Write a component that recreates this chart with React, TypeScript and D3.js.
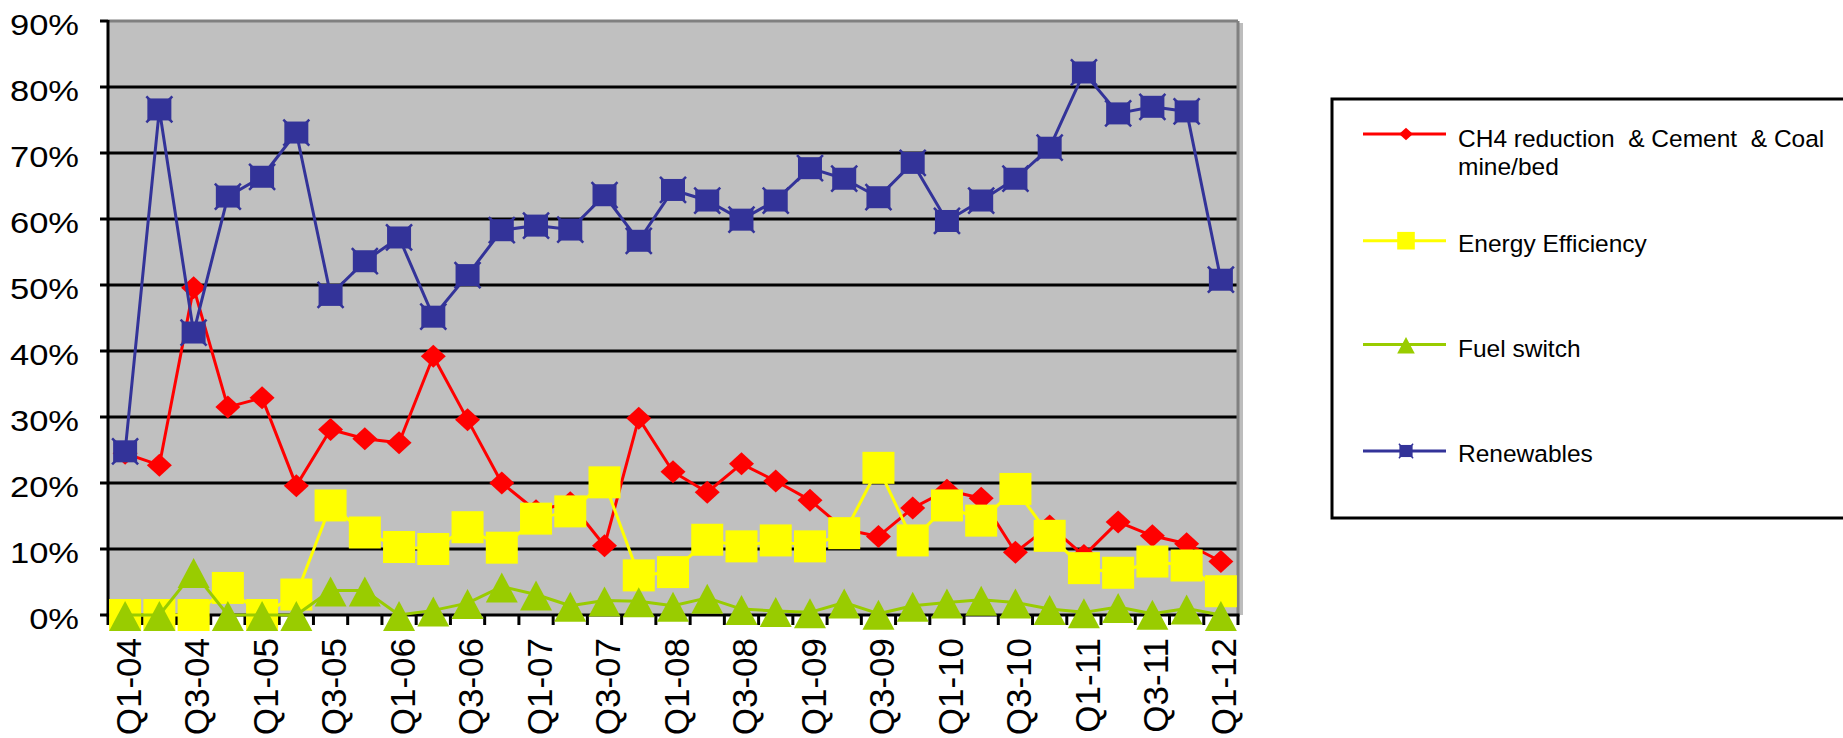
import React from "react";
import * as d3 from "d3";

const categories = [
  "Q1-04","Q2-04","Q3-04","Q4-04","Q1-05","Q2-05","Q3-05","Q4-05",
  "Q1-06","Q2-06","Q3-06","Q4-06","Q1-07","Q2-07","Q3-07","Q4-07",
  "Q1-08","Q2-08","Q3-08","Q4-08","Q1-09","Q2-09","Q3-09","Q4-09",
  "Q1-10","Q2-10","Q3-10","Q4-10","Q1-11","Q2-11","Q3-11","Q4-11","Q1-12",
];

const ch4Values = [24.5,22.7,49.6,31.5,32.9,19.6,28.1,26.7,26.1,39.2,29.6,20.0,15.8,17.0,10.5,29.8,21.7,18.6,22.9,20.3,17.4,13.0,11.9,16.2,18.9,17.7,9.5,13.5,9.0,14.1,12.0,10.8,8.1];
const energyEffValues = [0,0,0,4.1,0,3.1,16.6,12.5,10.3,10.0,13.3,10.2,14.6,15.7,20.1,6.0,6.5,11.4,10.4,11.3,10.4,12.4,22.3,11.3,16.6,14.3,19.1,12.0,7.1,6.4,8.1,7.5,3.6];
const fuelSwitchValues = [0,0,6.5,0,0,0,3.7,3.7,0,0.7,1.8,4.3,3.1,1.4,2.2,2.1,1.4,2.6,0.9,0.6,0.4,1.9,0.2,1.4,1.9,2.3,1.9,0.9,0.4,1.2,0.2,1.0,0];
const renewablesValues = [24.8,76.6,42.8,63.4,66.4,73.1,48.5,53.6,57.2,45.2,51.5,58.3,59.0,58.4,63.6,56.7,64.4,62.8,59.9,62.8,67.7,66.1,63.3,68.5,59.7,62.8,66.1,70.8,82.2,76.0,77.0,76.3,50.8];

const yTicks = [0,10,20,30,40,50,60,70,80,90];

const seriesNames = ["CH4 reduction  & Cement  & Coal", "Energy Efficiency", "Fuel switch", "Renewables"];

const FONT = "'Liberation Sans', Arial, Helvetica, sans-serif";

type Shape = "diamond" | "square" | "triangle" | "xsquare";

function Marker({ shape, x, y, color, s = 1 }: { shape: Shape; x: number; y: number; color: string; s?: number }) {
  if (shape === "diamond") {
    const w = 12.5 * s, h = 11.5 * s;
    return <polygon points={`${x},${y - h} ${x + w},${y} ${x},${y + h} ${x - w},${y}`} fill={color} />;
  }
  if (shape === "square") {
    const h = 16 * s;
    return <rect x={x - h} y={y - h} width={2 * h} height={2 * h} fill={color} />;
  }
  if (shape === "triangle") {
    const w = 16 * s;
    return <polygon points={`${x},${y - 14 * s} ${x + w},${y + 16 * s} ${x - w},${y + 16 * s}`} fill={color} />;
  }
  const h = 11 * s;
  const e = 13 * s;
  return (
    <g>
      <path d={`M${x - e},${y - e}L${x + e},${y + e}M${x - e},${y + e}L${x + e},${y - e}`} stroke={color} strokeWidth={2.5 * s} />
      <rect x={x - 12 * s} y={y - h} width={24 * s} height={2 * h} fill={color} />
    </g>
  );
}

export default function App() {
  const left = 108, right = 1238, top = 21, bottom = 615;
  const x = d3.scaleBand<string>().domain(categories).range([left, right]).padding(0);
  const y = d3.scaleLinear().domain([0, 90]).range([bottom, top]);
  const cx = (c: string) => (x(c) as number) + x.bandwidth() / 2;

  const series = [
    { name: seriesNames[0], values: ch4Values, color: "#FF0000", shape: "diamond" as Shape },
    { name: seriesNames[1], values: energyEffValues, color: "#FFFF00", shape: "square" as Shape },
    { name: seriesNames[2], values: fuelSwitchValues, color: "#99CC00", shape: "triangle" as Shape },
    { name: seriesNames[3], values: renewablesValues, color: "#333399", shape: "xsquare" as Shape },
  ];

  const lineGen = d3.line<number>().x((_, i) => cx(categories[i])).y((v) => y(v));

  const legendLines = [134, 240.7, 344.6, 451];
  const legendBaselines = [147, 252, 357, 462];

  return (
    <svg width={1843} height={738} style={{ position: "fixed", left: 0, top: 0, background: "#fff" }} fontFamily={FONT}>
      {/* plot area */}
      <rect x={right + 1} y={top + 2} width={4} height={bottom - top - 2} fill="#BDBDBD" />
      <rect x={left} y={top} width={right - left} height={bottom - top} fill="#C0C0C0" />
      {yTicks.filter((t) => t > 0 && t < 90).map((t) => (
        <line key={t} x1={left} x2={right} y1={y(t)} y2={y(t)} stroke="#000" strokeWidth={3} />
      ))}
      <line x1={left} x2={right} y1={top} y2={top} stroke="#808080" strokeWidth={3} />
      <line x1={right} x2={right} y1={top} y2={bottom} stroke="#808080" strokeWidth={3} />

      {/* axes */}
      <line x1={left} x2={left} y1={top - 1} y2={bottom + 1.5} stroke="#000" strokeWidth={3} />
      <line x1={left - 1.5} x2={right + 1.5} y1={bottom} y2={bottom} stroke="#000" strokeWidth={3} />
      {yTicks.map((t) => (
        <line key={t} x1={left - 8} x2={left} y1={y(t)} y2={y(t)} stroke="#000" strokeWidth={3} />
      ))}
      {categories.map((c) => (
        <line key={c} x1={x(c) as number} x2={x(c) as number} y1={bottom} y2={bottom + 10} stroke="#000" strokeWidth={3} />
      ))}
      <line x1={right} x2={right} y1={bottom} y2={bottom + 10} stroke="#000" strokeWidth={3} />

      {/* y labels */}
      {yTicks.map((t) => (
        <text key={t} transform={`translate(79,${y(t) + 14}) scale(1.15,1)`} textAnchor="end" fontSize={30} fill="#000">
          {`${t}%`}
        </text>
      ))}

      {/* x labels */}
      {categories.map((c, i) =>
        i % 2 === 0 ? (
          <text key={c} transform={`translate(${cx(c) + 3},638) rotate(-90)`} textAnchor="end" dy="0.36em" fontSize={35} fill="#000">
            {c}
          </text>
        ) : null
      )}

      {/* series */}
      {series.map((s) => (
        <g key={s.name}>
          <path d={lineGen(s.values) || ""} fill="none" stroke={s.color} strokeWidth={3} strokeLinejoin="round" />
          {s.values.map((v, i) => (
            <Marker key={i} shape={s.shape} x={cx(categories[i])} y={y(v)} color={s.color} />
          ))}
        </g>
      ))}

      {/* legend */}
      <rect x={1332} y={99} width={600} height={419} fill="#fff" stroke="#000" strokeWidth={3} />
      {series.map((s, i) => (
        <g key={s.name}>
          <line x1={1363} x2={1446} y1={legendLines[i]} y2={legendLines[i]} stroke={s.color} strokeWidth={3} />
          <Marker shape={s.shape} x={1406} y={legendLines[i]} color={s.color} s={0.55} />
          <text x={1458} y={legendBaselines[i]} fontSize={24.5} fill="#000" style={{ whiteSpace: "pre" }}>
            {s.name}
          </text>
        </g>
      ))}
      <text x={1458} y={175} fontSize={24.5} fill="#000">mine/bed</text>
    </svg>
  );
}
